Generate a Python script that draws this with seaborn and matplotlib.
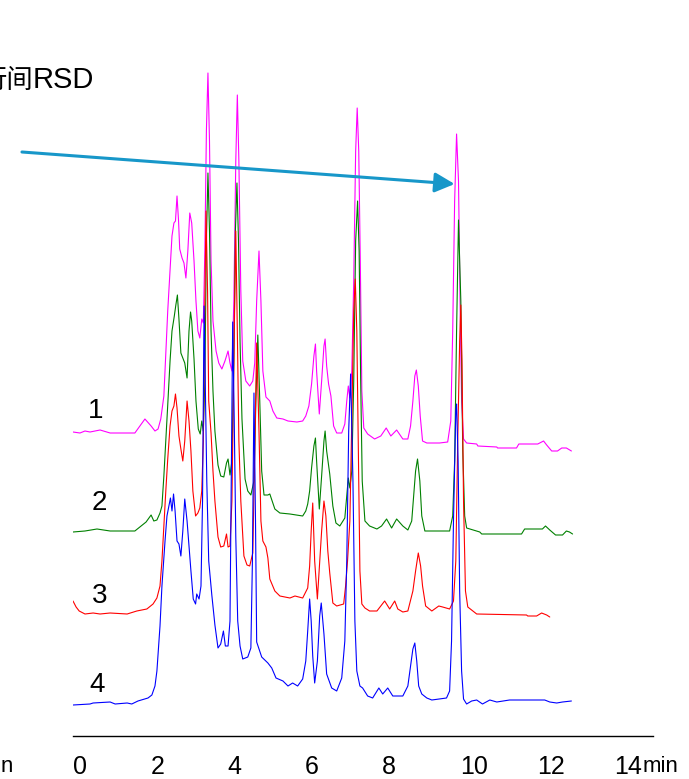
import matplotlib
matplotlib.use("Agg")
import matplotlib.pyplot as plt
import seaborn as sns
import pandas as pd
from matplotlib.ticker import MultipleLocator

sns.set_style("white")
SANS = ["Liberation Sans", "DejaVu Sans"]
plt.rcParams["font.family"] = SANS
plt.rcParams["text.color"] = "black"
plt.rcParams["xtick.color"] = "black"
plt.rcParams["axes.edgecolor"] = "black"

# ---------------- data (time in min, detector signal, stacked traces) ----------------
trace_labels = ["1", "2", "3", "4"]
trace_colors = ["#ff00ff", "#008000", "#ff0000", "#0000ff"]

trace1 = [(0.00,304),(0.18,303),(0.31,305),(0.44,304),(0.70,306),(0.96,303),(1.60,303),(1.73,310),(1.86,317),
          (2.02,310),(2.12,305),(2.20,307),(2.27,317),(2.35,340),(2.40,383),(2.45,425),(2.51,465),(2.56,500),
          (2.61,513),(2.65,515),(2.69,540),(2.73,515),(2.76,487),(2.82,478),(2.87,473),(2.92,458),(2.97,485),
          (3.02,523),(3.07,513),(3.13,475),(3.18,435),(3.23,405),(3.28,398),(3.33,417),(3.37,413),(3.41,485),
          (3.45,605),(3.49,663),(3.53,595),(3.57,475),(3.62,415),(3.70,385),(3.77,373),(3.85,367),(3.93,375),
          (4.01,385),(4.06,373),(4.11,365),(4.16,435),(4.21,575),(4.25,641),(4.29,575),(4.34,445),(4.39,375),
          (4.47,355),(4.57,350),(4.65,355),(4.70,373),(4.75,435),(4.81,485),(4.86,435),(4.91,365),(4.99,339),
          (5.09,335),(5.17,325),(5.27,318),(5.43,317),(5.56,315),(5.79,314),(5.94,315),(6.02,320),(6.10,330),
          (6.17,352),(6.23,380),(6.27,392),(6.30,365),(6.37,322),(6.43,355),(6.49,390),(6.52,397),(6.56,370),
          (6.61,352),(6.67,340),(6.74,310),(6.82,303),(6.95,303),(7.03,312),(7.08,335),(7.12,350),(7.16,338),
          (7.21,365),(7.26,455),(7.31,585),(7.35,628),(7.39,585),(7.43,475),(7.47,345),(7.52,308),(7.62,302),
          (7.80,297),(7.96,300),(8.10,308),(8.22,300),(8.37,306),(8.53,297),(8.66,297),(8.73,310),(8.79,335),
          (8.84,360),(8.88,366),(8.93,350),(8.98,320),(9.04,295),(9.15,293),(9.48,293),(9.69,294),(9.77,315),
          (9.82,405),(9.87,535),(9.92,602),(9.97,555),(10.01,435),(10.05,335),(10.10,297),(10.18,293),
          (10.44,292),(10.47,290),(10.96,289),(10.98,288),(11.47,288),(11.53,292),(12.02,292),(12.17,295),
          (12.25,291),(12.38,285),(12.53,285),(12.64,288),(12.76,288),(12.89,285)]

trace2 = [(0.00,204),(0.31,205),(0.62,207),(0.96,205),(1.60,205),(1.73,209),(1.89,214),(2.02,221),(2.09,215),
          (2.17,216),(2.25,223),(2.30,230),(2.35,260),(2.40,295),(2.45,331),(2.51,375),(2.56,405),(2.62,420),
          (2.66,431),(2.70,441),(2.74,417),(2.79,383),(2.84,378),(2.89,373),(2.95,358),(3.00,405),(3.04,424),
          (3.07,415),(3.13,377),(3.18,335),(3.24,307),(3.29,302),(3.33,315),(3.37,305),(3.41,355),(3.45,495),
          (3.49,563),(3.53,505),(3.57,405),(3.62,345),(3.67,305),(3.75,271),(3.82,260),(3.90,259),(3.97,273),
          (4.01,277),(4.06,261),(4.11,275),(4.16,375),(4.20,505),(4.24,553),(4.28,495),(4.32,395),(4.37,317),
          (4.45,257),(4.52,245),(4.60,241),(4.68,255),(4.73,335),(4.78,401),(4.83,335),(4.88,265),(4.94,241),
          (5.04,241),(5.09,242),(5.22,227),(5.35,223),(5.61,222),(5.94,220),(6.02,225),(6.07,232),(6.12,245),
          (6.17,268),(6.23,290),(6.27,298),(6.30,275),(6.37,227),(6.43,260),(6.49,295),(6.52,305),(6.56,285),
          (6.64,262),(6.72,230),(6.80,213),(6.90,210),(7.03,218),(7.08,240),(7.12,258),(7.16,248),(7.21,265),
          (7.26,355),(7.31,495),(7.36,535),(7.40,485),(7.44,355),(7.48,255),(7.55,215),(7.67,210),(7.86,207),
          (7.98,210),(8.11,217),(8.24,208),(8.37,217),(8.53,210),(8.66,206),(8.76,215),(8.81,240),(8.86,265),
          (8.91,277),(8.97,255),(9.02,220),(9.10,205),(9.30,205),(9.74,205),(9.82,220),(9.87,275),(9.92,405),
          (9.97,516),(10.03,435),(10.08,285),(10.13,220),(10.18,208),(10.52,204),(10.57,202),(11.60,202),
          (11.68,207),(12.14,207),(12.22,210),(12.33,206),(12.48,201),(12.66,201),(12.76,205),(12.84,204),
          (12.92,202)]

trace3 = [(0.00,135),(0.08,129),(0.16,125),(0.31,122),(0.52,123),(0.70,122),(0.96,123),(1.40,122),(1.65,125),
          (1.91,127),(2.07,132),(2.17,138),(2.25,150),(2.30,175),(2.35,210),(2.40,245),(2.45,277),(2.51,310),
          (2.56,325),(2.61,330),(2.65,342),(2.69,328),(2.74,300),(2.79,287),(2.84,275),(2.89,295),(2.95,335),
          (3.00,315),(3.05,285),(3.10,245),(3.17,220),(3.23,223),(3.28,228),(3.33,245),(3.37,295),(3.41,435),
          (3.44,525),(3.48,445),(3.51,335),(3.57,303),(3.62,265),(3.67,235),(3.75,199),(3.82,189),(3.90,190),
          (3.97,202),(4.01,189),(4.06,190),(4.11,235),(4.16,375),(4.21,505),(4.25,405),(4.29,295),(4.34,235),
          (4.42,180),(4.50,171),(4.57,170),(4.65,183),(4.70,285),(4.75,393),(4.81,305),(4.86,215),(4.91,195),
          (4.99,189),(5.04,178),(5.09,157),(5.22,145),(5.35,140),(5.61,138),(5.74,140),(5.94,138),(6.07,148),
          (6.12,170),(6.16,205),(6.20,233),(6.25,175),(6.32,137),(6.38,175),(6.43,205),(6.49,235),(6.54,220),
          (6.59,185),(6.64,163),(6.72,133),(6.82,130),(7.00,132),(7.05,150),(7.10,175),(7.16,215),(7.21,315),
          (7.26,425),(7.30,457),(7.34,405),(7.38,285),(7.42,165),(7.47,132),(7.55,128),(7.67,125),(7.86,125),
          (8.06,135),(8.19,127),(8.32,135),(8.40,127),(8.53,124),(8.66,125),(8.79,145),(8.86,165),(8.93,183),
          (8.99,170),(9.04,150),(9.12,130),(9.28,125),(9.46,130),(9.56,129),(9.74,127),(9.84,135),(9.90,175),
          (9.95,295),(10.00,395),(10.03,431),(10.06,375),(10.10,235),(10.15,145),(10.21,129),(10.44,122),
          (11.73,121),(11.76,120),(11.99,120),(12.12,123),(12.25,121),(12.33,119)]

trace4 = [(0.00,31),(0.44,32),(0.52,33),(0.96,34),(1.09,32),(1.40,33),(1.52,32),(1.68,35),(1.94,38),(2.04,41),
          (2.12,50),(2.17,65),(2.25,110),(2.30,150),(2.38,195),(2.43,220),(2.48,230),(2.52,238),(2.56,225),
          (2.60,242),(2.64,225),(2.69,195),(2.74,192),(2.79,180),(2.84,205),(2.89,237),(2.95,215),(3.00,190),
          (3.05,165),(3.11,137),(3.17,132),(3.20,142),(3.26,137),(3.31,150),(3.35,235),(3.39,430),(3.42,355),
          (3.46,255),(3.51,175),(3.59,141),(3.67,111),(3.75,88),(3.82,92),(3.89,105),(3.94,90),(4.01,90),
          (4.06,115),(4.10,285),(4.13,414),(4.17,315),(4.21,199),(4.26,115),(4.32,90),(4.39,77),(4.52,79),
          (4.60,88),(4.64,175),(4.68,343),(4.72,215),(4.75,94),(4.88,79),(5.04,73),(5.14,68),(5.25,58),
          (5.43,55),(5.56,50),(5.68,53),(5.81,50),(5.94,57),(6.02,75),(6.07,105),(6.12,137),(6.16,115),
          (6.20,80),(6.25,53),(6.32,75),(6.38,120),(6.42,133),(6.49,102),(6.56,62),(6.69,48),(6.82,45),
          (6.95,58),(7.03,95),(7.08,175),(7.13,305),(7.18,362),(7.24,255),(7.29,115),(7.34,65),(7.42,50),
          (7.49,48),(7.62,40),(7.75,38),(7.91,48),(8.01,42),(8.14,48),(8.27,40),(8.53,40),(8.66,50),(8.73,70),
          (8.79,87),(8.84,93),(8.89,75),(8.94,50),(9.02,42),(9.15,38),(9.28,36),(9.66,38),(9.74,45),(9.79,95),
          (9.84,215),(9.90,325),(9.92,332),(9.96,275),(10.00,145),(10.05,65),(10.10,37),(10.18,32),(10.31,35),
          (10.44,36),(10.59,32),(10.78,36),(10.96,34),(11.29,36),(12.20,36),(12.33,34),(12.51,33),(12.66,34),
          (12.89,35)]

x_major = [0, 2, 4, 6, 8, 10, 12, 14]
x_tick_labels = ["0", "2", "4", "6", "8", "10", "12", "14"]

# ---------------- build long table ----------------
rows = []
for lab, tr in zip(trace_labels, [trace1, trace2, trace3, trace4]):
    for t, s in tr:
        rows.append({"time": t, "signal": s, "trace": lab})
df = pd.DataFrame(rows)

W, H = 689, 779
fig = plt.figure(figsize=(W / 100, H / 100), dpi=100)
ax = fig.add_axes([73 / W, 43 / H, 580 / W, 736 / H])

sns.lineplot(data=df, x="time", y="signal", hue="trace", hue_order=trace_labels,
             palette=trace_colors, sort=False, estimator=None, legend=False,
             linewidth=0.8, ax=ax)

ax.set_xlim(0, 15)
ax.set_ylim(0, 736)
for sp in ["left", "top", "right"]:
    ax.spines[sp].set_visible(False)
ax.spines["bottom"].set_color("black")
ax.spines["bottom"].set_linewidth(1.0)
ax.set_yticks([])
ax.set_xlabel("")
ax.set_ylabel("")
ax.set_xticks(x_major)
ax.set_xticklabels(x_tick_labels, ha="left", fontsize=18)
ax.xaxis.set_minor_locator(MultipleLocator(0.5))
ax.tick_params(axis="x", which="major", direction="out", length=12, width=1, pad=2, colors="black")
ax.tick_params(axis="x", which="minor", direction="out", length=7, width=1, colors="black")
ax.patch.set_alpha(0)

# trace numbers
label_pos = [(0.59, 318), (0.67, 226), (0.70, 133), (0.62, 44)]
for lab, (tx, ty) in zip(trace_labels, label_pos):
    ax.text(tx, ty, lab, fontsize=20, ha="center", va="baseline", color="black")

# arrow
ax.annotate("", xy=(9.87, 552), xytext=(-1.32, 584), annotation_clip=False,
            arrowprops=dict(arrowstyle="-|>", color="#1797c9", lw=2.2,
                            mutation_scale=30, shrinkA=0, shrinkB=0))

# texts
fig.text(33 / W, 1 - 88 / H, "RSD", fontsize=21, ha="left", va="baseline")
fig.text(33 / W, 1 - 88 / H, "行间", fontsize=19, ha="right", va="baseline",
         family=["Noto Sans CJK SC", "DejaVu Sans"])
fig.text(643 / W, 1 - 772 / H, "min", fontsize=16, ha="left", va="baseline")
fig.text(1 / W, 1 - 772 / H, "n", fontsize=16, ha="left", va="baseline")

fig.savefig("out.png", dpi=100, facecolor="white")
